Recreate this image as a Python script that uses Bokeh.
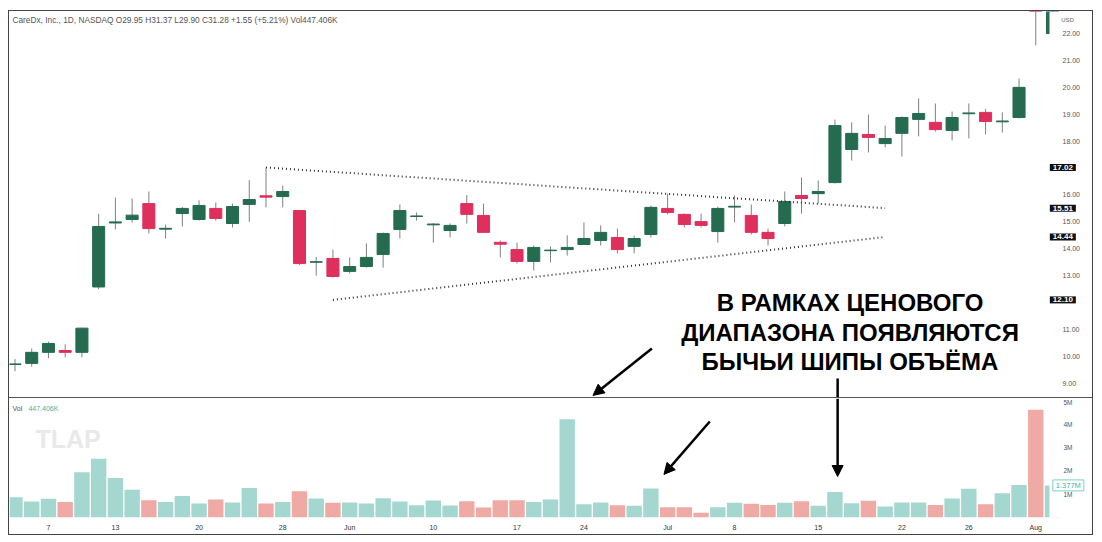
from bokeh.plotting import figure
from bokeh.layouts import column
from bokeh.models import (ColumnDataSource, FixedTicker, Label, Arrow, NormalHead,
                          Range1d, NumeralTickFormatter, PrintfTickFormatter, BoxAnnotation)
from bokeh.embed import file_html
from bokeh.resources import INLINE

# ---------------- data ----------------
opens = [9.70, 9.74, 10.15, 10.22, 10.15, 12.58, 14.96, 15.09, 15.68, 14.73,
         15.31, 15.09, 15.50, 14.94, 15.65, 15.97, 15.94, 15.42, 13.50, 13.64,
         13.16, 13.34, 13.79, 14.72, 15.20, 14.89, 14.68, 15.68, 15.24, 14.24,
         13.97, 13.53, 13.93, 13.97, 14.16, 14.31, 14.42, 14.09, 14.53, 15.50,
         15.28, 15.01, 14.64, 15.55, 15.24, 14.61, 14.94, 15.98, 16.05, 16.46,
         17.69, 18.25, 17.91, 18.29, 18.81, 18.70, 18.40, 19.02, 19.07, 18.72,
         18.88, 24.50, 22.00]
highs = [9.90, 10.29, 10.55, 10.45, 11.07, 15.30, 15.90, 15.87, 16.13, 14.90,
         15.55, 15.80, 15.72, 15.68, 16.55, 17.02, 16.35, 15.45, 13.70, 13.97,
         13.68, 14.20, 14.60, 15.65, 15.35, 14.95, 14.94, 16.00, 15.68, 14.31,
         14.23, 14.12, 14.09, 14.50, 14.98, 14.87, 14.75, 14.49, 15.60, 16.05,
         15.31, 15.31, 15.57, 15.98, 15.65, 14.75, 16.13, 16.65, 16.54, 18.80,
         18.70, 18.99, 18.58, 18.92, 19.59, 19.40, 19.10, 19.40, 19.20, 19.07,
         20.33, 25.00, 24.20]
lows = [9.45, 9.62, 9.93, 9.97, 9.97, 12.50, 14.72, 14.98, 14.57, 14.38,
        14.83, 15.05, 15.05, 14.79, 15.00, 15.54, 15.54, 13.40, 13.00, 12.93,
        13.08, 13.30, 13.30, 14.38, 15.05, 14.23, 14.42, 14.94, 14.60, 13.68,
        13.45, 13.19, 13.49, 13.75, 14.15, 14.12, 13.83, 13.83, 14.42, 15.28,
        14.79, 14.79, 14.23, 14.98, 14.53, 14.12, 14.83, 15.31, 15.68, 16.43,
        17.28, 17.58, 17.77, 17.43, 18.18, 18.36, 18.03, 18.10, 18.25, 18.32,
        18.84, 21.56, 21.90]
closes = [9.72, 10.15, 10.48, 10.15, 11.05, 14.83, 15.00, 15.25, 14.75, 14.76,
          15.50, 15.61, 15.13, 15.57, 15.83, 15.92, 16.13, 13.45, 13.52, 12.97,
          13.34, 13.68, 14.57, 15.42, 15.22, 14.92, 14.87, 15.28, 14.61, 14.17,
          13.53, 14.05, 13.95, 14.05, 14.38, 14.61, 13.97, 14.38, 15.54, 15.35,
          14.90, 14.87, 15.50, 15.58, 14.61, 14.38, 15.76, 15.87, 16.13, 18.58,
          18.29, 18.14, 18.10, 18.88, 19.03, 18.43, 18.88, 19.05, 18.73, 18.75,
          20.00, 23.50, 24.00]
volumes_m = [0.87, 0.69, 0.80, 0.67, 1.94, 2.52, 1.70, 1.19, 0.74, 0.66,
             0.92, 0.60, 0.77, 0.64, 1.27, 0.60, 0.67, 1.13, 0.82, 0.63,
             0.64, 0.60, 0.83, 0.69, 0.53, 0.73, 0.52, 0.70, 0.43, 0.74,
             0.74, 0.67, 0.77, 4.22, 0.57, 0.64, 0.53, 0.50, 1.24, 0.44,
             0.44, 0.20, 0.44, 0.63, 0.59, 0.54, 0.63, 0.70, 0.50, 1.09,
             0.61, 0.72, 0.47, 0.64, 0.64, 0.54, 0.82, 1.23, 0.57, 1.04,
             1.39, 4.62, 1.377]
date_tick_index = [2, 6, 11, 16, 20, 25, 30, 34, 39, 43, 48, 53, 57, 61]
date_tick_labels = ["7", "13", "20", "28", "Jun", "10", "17", "24", "Jul", "8",
                    "15", "22", "26", "Aug"]
price_ticks = [9, 10, 11, 13, 14, 15, 16, 18, 19, 20, 21, 22]
volume_ticks = [1, 2, 3, 4, 5]

# triangle (dotted trend lines): candle index and price
upper_line_x = [15, 52]
upper_line_y = [17.02, 15.51]
lower_line_x = [19, 52]
lower_line_y = [12.10, 14.44]

header_text = "CareDx, Inc., 1D, NASDAQ  O29.95  H31.37  L29.90  C31.28  +1.55 (+5.21%)  Vol447.406K"
annotation_lines = ["В РАМКАХ ЦЕНОВОГО", "ДИАПАЗОНА ПОЯВЛЯЮТСЯ", "БЫЧЬИ ШИПЫ ОБЪЁМА"]

# ---------------- styles ----------------
GREEN = "#246b50"
RED = "#de2f5d"
WICK = "#808080"
VOL_UP = "#a3d7cf"
VOL_DN = "#f0aaa5"
AXIS_TXT = "#555555"
FONT = "Liberation Sans"
CHART_END = 61.82      # right edge of the candle area (price scale starts here)

idx = list(range(len(opens)))
up = [c >= o for o, c in zip(opens, closes)]
src = ColumnDataSource(dict(
    x=idx, open=opens, high=highs, low=lows, close=closes,
    top=[max(o, c) for o, c in zip(opens, closes)],
    bottom=[min(o, c) for o, c in zip(opens, closes)],
    color=[GREEN if u else RED for u in up],
    vol=volumes_m,
    vcolor=[VOL_UP if u else VOL_DN for u in up],
))

x_range = Range1d(-0.328, 64.39)

# ---------------- price pane ----------------
pA = figure(width=1083, height=386, x_range=x_range, y_range=Range1d(8.472, 22.82),
            output_backend="svg", toolbar_location=None, x_axis_location=None,
            y_axis_location="right", min_border_left=0, min_border_top=0,
            min_border_bottom=0, min_border_right=0)
pA.grid.visible = False
pA.outline_line_color = None
ya = pA.yaxis[0]
ya.fixed_location = CHART_END
ya.ticker = FixedTicker(ticks=price_ticks)
ya.formatter = NumeralTickFormatter(format="0.00")
ya.axis_line_color = None
ya.major_tick_line_color = None
ya.minor_tick_line_color = None
ya.major_label_text_font_size = "7px"
ya.major_label_text_color = AXIS_TXT
ya.major_label_text_font = FONT
ya.major_label_standoff = 7

pA.segment(x0="x", y0="low", x1="x", y1="high", source=src, line_color=WICK, line_width=1)
pA.vbar(x="x", top="top", bottom="bottom", width=0.72, source=src,
        fill_color="color", line_color="color", line_width=1)

pA.line(upper_line_x, upper_line_y, line_color="#333333", line_width=2, line_dash="1 3")
pA.line(lower_line_x, lower_line_y, line_color="#333333", line_width=2, line_dash="1 3")

pA.add_layout(BoxAnnotation(left=CHART_END, fill_color="white", fill_alpha=1.0,
                            line_color=None, level="glyph"))

box_pad = dict(left=3, right=3, top=1, bottom=1)
for v in upper_line_y + lower_line_y:
    pA.add_layout(Label(x=CHART_END + 0.02, y=v, text=f"{v:.2f}", text_font_size="8px",
                        text_font=FONT, text_color="white", text_font_style="bold",
                        background_fill_color="#111111", text_baseline="middle",
                        text_align="left", padding=box_pad))

pA.add_layout(Label(x=62.4, y=22.52, text="USD", text_font_size="6px", text_font=FONT,
                    text_color="#666666", text_baseline="middle", text_align="left",
                    background_fill_color="white", padding=2))

pA.add_layout(Label(x=-0.15, y=22.49, text=header_text, text_font_size="8.3px",
                    text_font=FONT, text_color="#555555", text_baseline="middle",
                    text_align="left"))

ann_y = [12.0, 10.9, 9.82]
for t, yv in zip(annotation_lines, ann_y):
    pA.add_layout(Label(x=49.9, y=yv, text=t, text_font_size="24px", text_font=FONT,
                        text_font_style="bold", text_color="black",
                        text_align="center", text_baseline="middle"))

head = dict(size=11, fill_color="black", line_color="black")
pA.add_layout(Arrow(end=NormalHead(**head), x_start=38.06, y_start=10.29,
                    x_end=34.54, y_end=8.55, line_width=2.5, line_color="black"))
pA.add_layout(Arrow(end=None, x_start=49.16, y_start=9.18, x_end=49.16, y_end=8.472,
                    line_width=2.5, line_color="black"))

# ---------------- volume pane ----------------
pB = figure(width=1083, height=137, x_range=x_range, y_range=Range1d(0, 5.107),
            output_backend="svg", toolbar_location=None, y_axis_location="right",
            min_border_left=0, min_border_top=0, min_border_right=0,
            min_border_bottom=18, styles={"border-top": "1px solid #555"})
pB.grid.visible = False
pB.outline_line_color = None
pB.vbar(x="x", top="vol", width=0.92, source=src, fill_color="vcolor", line_color=None)
pB.add_layout(BoxAnnotation(left=CHART_END, fill_color="white", fill_alpha=1.0,
                            line_color=None, level="glyph"))

xb = pB.xaxis[0]
xb.ticker = FixedTicker(ticks=date_tick_index)
xb.major_label_overrides = {i: s for i, s in zip(date_tick_index, date_tick_labels)}
xb.axis_line_color = None
xb.major_tick_line_color = None
xb.minor_tick_line_color = None
xb.major_label_text_font_size = "7px"
xb.major_label_text_color = "#333333"
xb.major_label_text_font = FONT
xb.major_label_standoff = 0

yb = pB.yaxis[0]
yb.fixed_location = CHART_END
yb.ticker = FixedTicker(ticks=volume_ticks)
yb.formatter = PrintfTickFormatter(format="%dM")
yb.axis_line_color = None
yb.major_tick_line_color = None
yb.minor_tick_line_color = None
yb.major_label_text_font_size = "6.5px"
yb.major_label_text_color = AXIS_TXT
yb.major_label_text_font = FONT
yb.major_label_standoff = 8

last_vol = volumes_m[-1]
pB.add_layout(Label(x=CHART_END + 0.2, y=last_vol, text=f"{last_vol:.3f}M",
                    text_font_size="7.5px", text_font=FONT, text_color="#3fb3a1",
                    background_fill_color="white", border_line_color="#7fcfc3",
                    text_baseline="middle", text_align="left", padding=box_pad))
pB.add_layout(Label(x=-0.15, y=4.68, text="Vol", text_font_size="7px", text_font=FONT,
                    text_color="#555555", text_baseline="middle", text_align="left"))
pB.add_layout(Label(x=0.8, y=4.68, text="447.406K", text_font_size="7px", text_font=FONT,
                    text_color="#3fb3a1", text_baseline="middle", text_align="left"))
pB.add_layout(Label(x=1.22, y=3.35, text="TLAP", text_font_size="25px", text_font=FONT,
                    text_font_style="bold", text_color="#e9e9e9", text_baseline="middle",
                    text_align="left"))

pB.add_layout(Arrow(end=NormalHead(**head), x_start=41.52, y_start=4.12,
                    x_end=38.78, y_end=1.85, line_width=2.5, line_color="black"))
pB.add_layout(Arrow(end=NormalHead(**head), x_start=49.16, y_start=5.107,
                    x_end=49.16, y_end=1.76, line_width=2.5, line_color="black"))

root = column(pA, pB, margin=(10, 0, 0, 8), spacing=0,
              styles={"border": "1px solid #444"})

open("out.html", "w").write(file_html(root, INLINE))
